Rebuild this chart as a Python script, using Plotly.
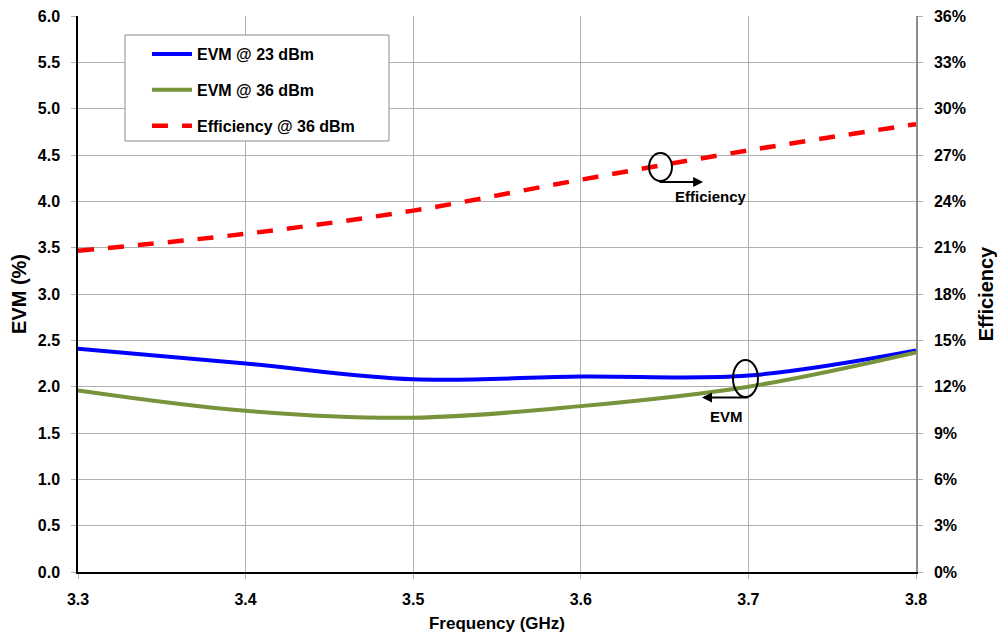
import plotly.graph_objects as go

freq = [3.3, 3.4, 3.5, 3.6, 3.7, 3.8]
evm_23 = [2.41, 2.25, 2.08, 2.11, 2.12, 2.39]
evm_36 = [1.96, 1.74, 1.665, 1.79, 2.00, 2.37]
eff_36 = [20.8, 21.9, 23.4, 25.4, 27.3, 29.0]

FONT = "Liberation Sans, Arial, sans-serif"
GRID = "#b0b0b0"

fig = go.Figure()
fig.add_trace(go.Scatter(x=freq, y=evm_23, name="EVM @ 23 dBm", mode="lines",
                         line=dict(color="#0000FF", width=4, shape="spline"),
                         legendgroup="a"))
fig.add_trace(go.Scatter(x=freq, y=evm_36, name="EVM @ 36 dBm", mode="lines",
                         line=dict(color="#77933C", width=4, shape="spline"),
                         legendgroup="b"))
fig.add_trace(go.Scatter(x=freq, y=eff_36, name="Efficiency @ 36 dBm", mode="lines",
                         line=dict(color="#FF0000", width=4.5, shape="spline", dash="16px,14px"),
                         yaxis="y2", legendgroup="c"))

# page body has an 8px margin, so the figure is sized to fit the 1005x636 window
fig.update_layout(
    width=997, height=628,
    margin=dict(l=70, r=89, t=8, b=64, autoexpand=False),
    paper_bgcolor="white", plot_bgcolor="white",
    font=dict(family=FONT, size=16, color="black", weight="bold"),
    showlegend=True,
    legend=dict(x=0.0823, y=0.962, xanchor="left", yanchor="top",
                borderwidth=0, bgcolor="rgba(0,0,0,0)",
                font=dict(family=FONT, size=16, weight="bold"),
                traceorder="grouped", tracegroupgap=12,
                itemwidth=40),
    xaxis=dict(range=[3.3, 3.8], dtick=0.1, tick0=3.3, tickformat=".1f",
               showgrid=True, gridcolor=GRID, gridwidth=1,
               showline=True, linecolor="black", linewidth=1.5,
               ticks="outside", ticklen=5, tickcolor=GRID,
               zeroline=False, automargin=False, ticklabelstandoff=7,
               ticklabeloverflow="allow",
               title=dict(text="Frequency (GHz)", font=dict(size=17, weight="bold"), standoff=10),
               tickfont=dict(size=16, weight="bold")),
    yaxis=dict(range=[0, 6], dtick=0.5, tickformat=".1f",
               showgrid=True, gridcolor=GRID, gridwidth=1,
               showline=True, linecolor="black", linewidth=1.5,
               ticks="outside", ticklen=5, tickcolor=GRID,
               zeroline=False, automargin=False, ticklabelstandoff=8,
               ticklabeloverflow="allow",
               title=dict(text="EVM (%)", font=dict(size=20, weight="bold"), standoff=9),
               tickfont=dict(size=16, weight="bold")),
    yaxis2=dict(range=[0, 36], dtick=3, ticksuffix="%", overlaying="y", side="right",
                showgrid=False, showline=True, linecolor="#8c8c8c", linewidth=1.5,
                ticks="outside", ticklen=5, tickcolor=GRID, zeroline=False,
                automargin=False, ticklabelstandoff=8, ticklabeloverflow="allow",
                title=dict(text="Efficiency", font=dict(size=20, weight="bold"), standoff=14),
                tickfont=dict(size=16, weight="bold")),
)

# legend frame
fig.add_shape(type="rect", xref="paper", yref="paper", x0=0.0561, x1=0.3711, y0=0.7752, y1=0.9658,
              line=dict(color="#8c8c8c", width=1), fillcolor="white", layer="above")

# Annotation marks (ellipses + arrows) pointing to the axis each group belongs to
fig.add_shape(type="circle", xref="x", yref="y", x0=3.6407, x1=3.6544, y0=4.219, y1=4.522,
              line=dict(color="black", width=2))
fig.add_annotation(x=3.673, y=4.209, ax=3.646, ay=4.209, xref="x", yref="y", axref="x", ayref="y",
                   text="", showarrow=True, arrowhead=2, arrowsize=1, arrowwidth=2, arrowcolor="black")
fig.add_annotation(x=3.6777, y=4.047, xref="x", yref="y", text="Efficiency", showarrow=False,
                   font=dict(family=FONT, size=15, weight="bold"))

fig.add_shape(type="circle", xref="x", yref="y", x0=3.6908, x1=3.7057, y0=1.888, y1=2.288,
              line=dict(color="black", width=2))
fig.add_annotation(x=3.6723, y=1.883, ax=3.7004, ay=1.883, xref="x", yref="y", axref="x", ayref="y",
                   text="", showarrow=True, arrowhead=2, arrowsize=1, arrowwidth=2, arrowcolor="black")
fig.add_annotation(x=3.6872, y=1.673, xref="x", yref="y", text="EVM", showarrow=False,
                   font=dict(family=FONT, size=15, weight="bold"))

fig.write_html("out.html")
